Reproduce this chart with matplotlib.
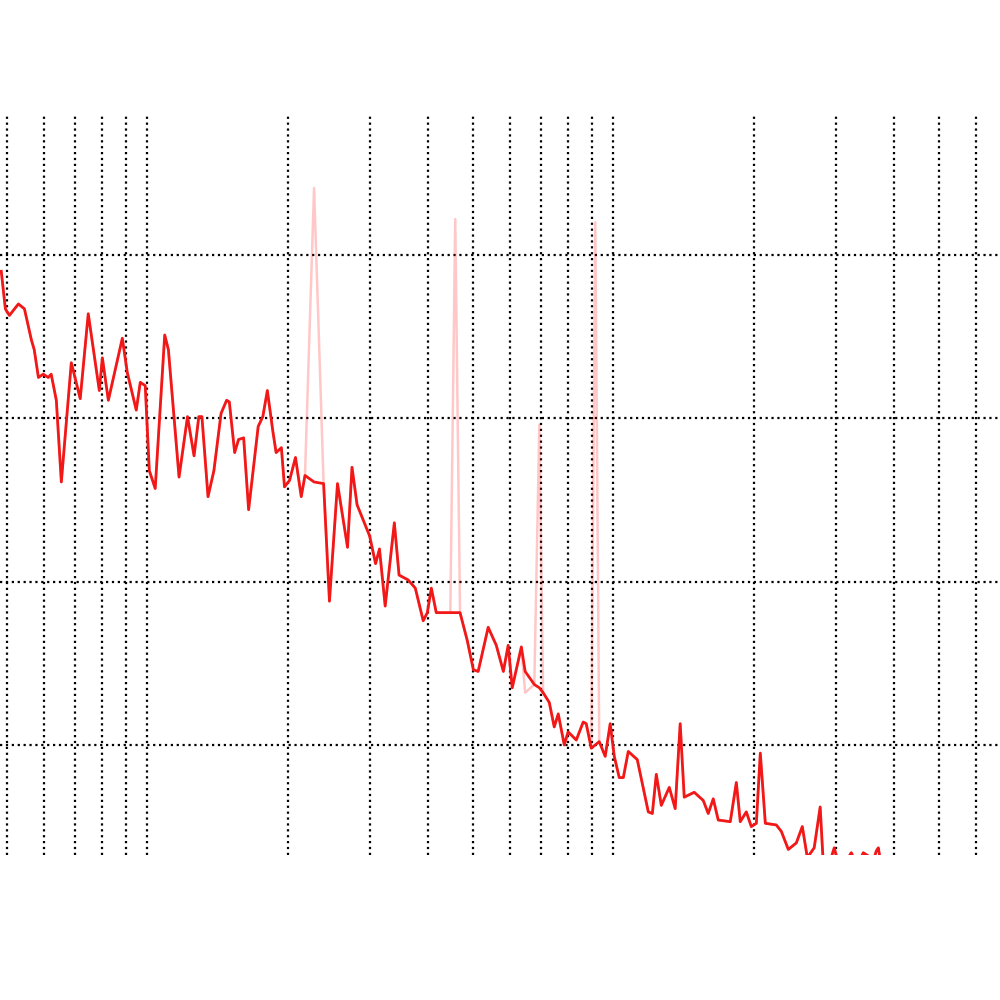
import matplotlib
matplotlib.use("Agg")
import matplotlib.pyplot as plt
import numpy as np

# frequency points (Hz) shared by both traces
freq = [48.6, 49.6, 50.6, 52.9, 54.5, 56.4, 57.2, 58.4, 59.8, 61.3,
        62.2, 63.8, 65.4, 68.7, 71.8, 74.7, 78.9, 80.1, 82.5, 88.4,
        90.6, 94.7, 96.6, 99.0, 101, 104, 109, 111, 117, 122,
        126, 129, 131, 135, 139, 144, 148, 150, 154, 157,
        161, 165, 173, 177, 181, 186, 189, 194, 197, 202,
        208, 214, 218, 228, 239, 246, 256, 269, 275, 282,
        300, 309, 315, 324, 339, 347, 363, 376, 391, 399,
        407, 417, 434, 447, 458, 469, 486, 501, 513, 539,
        561, 581, 595, 607, 635, 647, 677, 694, 707, 729,
        747, 762, 785, 800, 833, 862, 875, 897, 915, 933,
        961, 985, 1005, 1030, 1051, 1077, 1126, 1189, 1213, 1237,
        1268, 1319, 1358, 1392, 1420, 1492, 1560, 1599, 1639, 1680,
        1783, 1837, 1873, 1930, 1978, 2028, 2068, 2120, 2238, 2295,
        2375, 2471, 2545, 2609, 2699, 2780, 2822, 2878, 2980, 3055,
        3162, 3242, 3339, 3440, 3526, 3596, 3668, 3705, 3760]

# smoothed response (dB)
level = [-1.0, -3.3, -3.7, -3.0, -3.3, -5.2, -5.8, -7.5, -7.3, -7.5,
         -7.3, -8.9, -13.9, -6.6, -8.8, -3.6, -8.3, -6.3, -8.9, -5.1,
         -7.2, -9.5, -7.8, -8.0, -13.2, -14.3, -4.9, -5.8, -13.6, -9.9,
         -12.3, -9.9, -9.9, -14.8, -13.2, -9.7, -8.9, -9.0, -12.1, -11.3,
         -11.2, -15.6, -10.5, -9.9, -8.3, -10.8, -12.1, -11.8, -14.2, -13.8,
         -12.4, -14.8, -13.5, -13.9, -14.0, -21.2, -14.0, -17.9, -13.0, -15.3,
         -17.2, -18.9, -18.0, -21.5, -16.4, -19.6, -19.9, -20.4, -22.4, -21.9,
         -20.4, -21.9, -21.9, -21.9, -21.9, -21.9, -23.6, -25.4, -25.5, -22.8,
         -23.9, -25.5, -23.9, -26.5, -24.0, -25.5, -26.3, -26.5, -26.8, -27.4,
         -28.9, -28.1, -30.0, -29.2, -29.7, -28.6, -28.7, -30.2, -30.0, -29.8,
         -30.7, -28.7, -30.7, -32.0, -32.0, -30.4, -30.9, -34.1, -34.2, -31.8,
         -33.7, -32.6, -33.9, -28.7, -33.2, -32.9, -33.4, -34.2, -33.3, -34.6,
         -34.7, -32.3, -34.7, -34.1, -35.0, -34.8, -30.5, -34.8, -34.9, -35.3,
         -36.4, -36.0, -35.0, -36.9, -36.3, -33.8, -37.2, -37.7, -36.3, -37.5,
         -37.1, -36.6, -37.4, -36.6, -36.8, -37.3, -36.5, -36.3, -37.4]

# raw response with narrow peaks (dB)
raw = list(level)
raw[freq.index(228)] = 4.1
raw[freq.index(458)] = 2.2
raw[freq.index(647)] = -26.8
raw[freq.index(694)] = -10.4
raw[freq.index(915)] = 2.0

fig = plt.figure(figsize=(10, 10), dpi=100)
ax = fig.add_axes([0.0, 0.145, 1.0, 0.74])

ax.semilogx(freq, raw, color="red", alpha=0.22, lw=1.8)
ax.semilogx(freq, level, color="#f21818", lw=2.0)

ax.set_xlim(48.3, 6760)
ax.set_ylim(-36.74, 8.57)
ax.set_yticks([0, -10, -20, -30])

ax.grid(True, which="both", axis="x", color="black", linestyle=":", linewidth=1.6)
ax.grid(True, which="major", axis="y", color="black", linestyle=":", linewidth=1.6)
ax.tick_params(which="both", length=0, labelbottom=False, labelleft=False)
for s in ax.spines.values():
    s.set_visible(False)

plt.savefig("out.png", dpi=100)
plt.close()
